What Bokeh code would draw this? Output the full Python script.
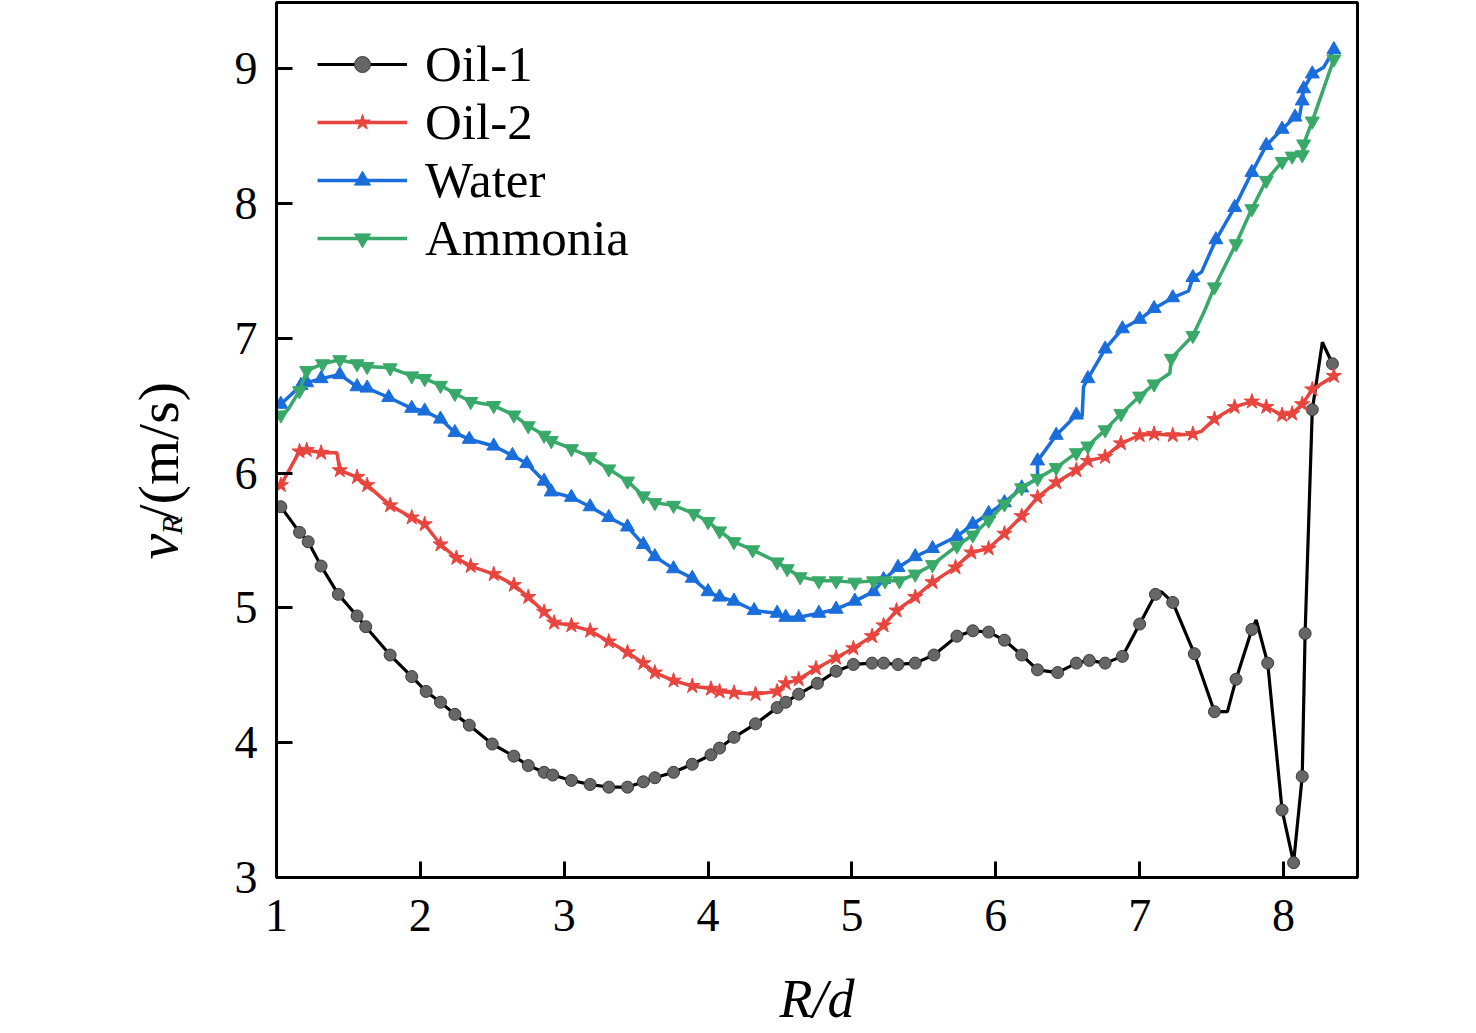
import math
from bokeh.plotting import figure
from bokeh.models import Range1d, FixedTicker, Legend, LegendItem, Title
from bokeh.embed import file_html
from bokeh.resources import INLINE

# ---------------- data ----------------
x_ticks = [1, 2, 3, 4, 5, 6, 7, 8]
y_ticks = [3, 4, 5, 6, 7, 8, 9]

oil1_x = [1.03, 1.16, 1.22, 1.31, 1.43, 1.56, 1.62, 1.79, 1.94, 2.04, 2.14, 2.24, 2.34, 2.50,
          2.65, 2.75, 2.86, 2.92, 3.05, 3.18, 3.31, 3.44, 3.55, 3.63, 3.76, 3.89, 4.02, 4.08,
          4.18, 4.33, 4.48, 4.54, 4.63, 4.76, 4.89, 5.01, 5.14, 5.22, 5.32, 5.44, 5.57, 5.73,
          5.84, 5.95, 6.06, 6.18, 6.29, 6.43, 6.56, 6.65, 6.76, 6.88, 7.00, 7.11, 7.15, 7.23,
          7.38, 7.52, 7.61, 7.67, 7.78, 7.81, 7.89, 7.99, 8.07, 8.13, 8.15, 8.20, 8.27, 8.34]
oil1_y = [5.75, 5.56, 5.49, 5.31, 5.10, 4.94, 4.86, 4.65, 4.49, 4.38, 4.30, 4.21, 4.13, 3.99,
          3.90, 3.83, 3.78, 3.76, 3.72, 3.69, 3.67, 3.67, 3.71, 3.74, 3.78, 3.84, 3.91, 3.96,
          4.04, 4.14, 4.26, 4.30, 4.36, 4.44, 4.53, 4.58, 4.59, 4.59, 4.58, 4.59, 4.65, 4.79,
          4.83, 4.82, 4.76, 4.65, 4.54, 4.52, 4.59, 4.61, 4.59, 4.64, 4.88, 5.10, 5.12, 5.04,
          4.66, 4.23, 4.23, 4.47, 4.84, 4.91, 4.59, 3.50, 3.11, 3.75, 4.81, 6.47, 6.97, 6.81]
oil1_mark = [1] * 54 + [0] + [1] * 3 + [0] + [1] * 2 + [0] + [1] * 6 + [0, 1]

oil2_x = [1.03, 1.16, 1.21, 1.31, 1.42, 1.44, 1.56, 1.63, 1.79, 1.94, 2.03, 2.14, 2.25, 2.35,
          2.51, 2.65, 2.75, 2.86, 2.93, 3.05, 3.18, 3.31, 3.44, 3.55, 3.63, 3.76, 3.89, 4.02,
          4.08, 4.18, 4.33, 4.48, 4.54, 4.63, 4.75, 4.89, 5.01, 5.14, 5.22, 5.31, 5.44, 5.56,
          5.72, 5.83, 5.95, 6.06, 6.18, 6.29, 6.42, 6.56, 6.64, 6.76, 6.87, 7.00, 7.10, 7.23,
          7.37, 7.43, 7.52, 7.66, 7.78, 7.88, 7.99, 8.06, 8.13, 8.20, 8.35]
oil2_y = [5.91, 6.16, 6.17, 6.15, 6.15, 6.02, 5.97, 5.91, 5.76, 5.67, 5.62, 5.47, 5.37, 5.31,
          5.25, 5.17, 5.08, 4.97, 4.89, 4.87, 4.83, 4.75, 4.67, 4.59, 4.52, 4.46, 4.42, 4.40,
          4.38, 4.37, 4.36, 4.38, 4.44, 4.47, 4.55, 4.63, 4.70, 4.79, 4.87, 4.98, 5.08, 5.19,
          5.30, 5.41, 5.44, 5.55, 5.68, 5.82, 5.93, 6.02, 6.09, 6.12, 6.22, 6.28, 6.29, 6.28,
          6.29, 6.31, 6.40, 6.49, 6.53, 6.49, 6.43, 6.44, 6.51, 6.62, 6.72]
oil2_mark = [1] * 4 + [0] + [1] * 52 + [0] + [1] * 9

water_x = [1.03, 1.17, 1.21, 1.31, 1.44, 1.56, 1.63, 1.78, 1.94, 2.03, 2.14, 2.24, 2.34, 2.51,
           2.64, 2.74, 2.86, 2.91, 3.05, 3.18, 3.31, 3.44, 3.55, 3.63, 3.76, 3.89, 4.00, 4.08,
           4.18, 4.32, 4.48, 4.54, 4.63, 4.77, 4.89, 5.02, 5.15, 5.22, 5.32, 5.44, 5.56, 5.73,
           5.84, 5.95, 6.06, 6.18, 6.29, 6.29, 6.42, 6.56, 6.60, 6.61, 6.64, 6.76, 6.88, 7.00,
           7.10, 7.23, 7.34, 7.37, 7.43, 7.53, 7.66, 7.78, 7.88, 7.99, 8.08, 8.11, 8.13, 8.14,
           8.20, 8.28, 8.35]
water_y = [6.51, 6.65, 6.67, 6.70, 6.73, 6.64, 6.63, 6.56, 6.48, 6.46, 6.40, 6.30, 6.25, 6.20,
           6.13, 6.07, 5.94, 5.86, 5.82, 5.75, 5.67, 5.60, 5.47, 5.38, 5.29, 5.22, 5.12, 5.08,
           5.05, 4.98, 4.96, 4.93, 4.93, 4.96, 4.99, 5.05, 5.12, 5.21, 5.30, 5.38, 5.44, 5.53,
           5.62, 5.70, 5.78, 5.89, 5.96, 6.09, 6.28, 6.43, 6.42, 6.64, 6.70, 6.92, 7.07, 7.14,
           7.22, 7.30, 7.35, 7.45, 7.49, 7.73, 7.97, 8.23, 8.43, 8.55, 8.64, 8.64, 8.76, 8.85,
           8.96, 9.01, 9.14]
water_mark = ([1] * 46 + [0] + [1] * 3 + [0, 0] + [1] * 6 + [0, 1, 0] + [1] * 6 + [0]
              + [1] * 3 + [0, 1])

amm_x = [1.03, 1.08, 1.16, 1.21, 1.32, 1.44, 1.56, 1.63, 1.79, 1.94, 2.03, 2.14, 2.24, 2.35,
         2.51, 2.65, 2.75, 2.86, 2.91, 3.05, 3.18, 3.31, 3.44, 3.55, 3.63, 3.76, 3.90, 4.00,
         4.08, 4.18, 4.31, 4.48, 4.55, 4.64, 4.77, 4.89, 5.02, 5.15, 5.23, 5.33, 5.44, 5.56,
         5.73, 5.84, 5.95, 6.06, 6.18, 6.29, 6.42, 6.56, 6.64, 6.76, 6.87, 7.00, 7.10, 7.21,
         7.22, 7.37, 7.45, 7.52, 7.67, 7.78, 7.88, 7.99, 8.06, 8.13, 8.14, 8.20, 8.35]
amm_y = [6.43, 6.47, 6.61, 6.76, 6.81, 6.84, 6.81, 6.79, 6.78, 6.72, 6.70, 6.65, 6.59, 6.53,
         6.50, 6.43, 6.35, 6.28, 6.24, 6.18, 6.12, 6.03, 5.94, 5.83, 5.78, 5.76, 5.70, 5.64,
         5.57, 5.49, 5.43, 5.34, 5.29, 5.23, 5.20, 5.20, 5.19, 5.20, 5.20, 5.20, 5.25, 5.32,
         5.46, 5.54, 5.65, 5.77, 5.89, 5.96, 6.04, 6.15, 6.20, 6.32, 6.44, 6.57, 6.66, 6.74,
         6.85, 7.02, 7.20, 7.38, 7.70, 7.96, 8.17, 8.31, 8.35, 8.36, 8.44, 8.61, 9.07]
amm_mark = [1, 0] + [1] * 53 + [0, 1, 1, 0] + [1] * 10

series_names = ["Oil-1", "Oil-2", "Water", "Ammonia"]

# ---------------- styling ----------------
FONT = "Liberation Serif"
C_BLACK = "#000000"
C_RED = "#E8453F"
C_BLUE = "#1A6EDC"
C_GREEN = "#38A968"

BL, BT, BB, BR = 276, 2, 148, 103
FW, FH = 1081, 875
p = figure(frame_width=FW, frame_height=FH,
           x_range=Range1d(1, 1 + FW / 143.86), y_range=Range1d(3, 3 + FH / 134.83),
           output_backend="svg", toolbar_location=None,
           min_border_left=BL, min_border_right=BR, min_border_top=BT, min_border_bottom=BB,
           background_fill_color="white", border_fill_color="white")

p.xgrid.visible = False
p.ygrid.visible = False
p.outline_line_color = "black"
p.outline_line_width = 3
p.outline_line_alpha = 1.0

for ax in (p.xaxis[0], p.yaxis[0]):
    ax.axis_line_width = 3
    ax.major_tick_line_width = 3
    ax.major_tick_in = 16
    ax.major_tick_out = 0
    ax.minor_tick_line_color = None
    ax.major_label_text_font = FONT
    ax.major_label_text_font_size = "46px"
    ax.major_label_text_color = "black"

p.xaxis.ticker = FixedTicker(ticks=x_ticks)
p.yaxis.ticker = FixedTicker(ticks=y_ticks)
p.xaxis.major_label_standoff = 22
p.yaxis.major_label_standoff = 19

p.xaxis.axis_label = "R/d"
p.xaxis.axis_label_text_font = FONT
p.xaxis.axis_label_text_font_style = "italic"
p.xaxis.axis_label_text_font_size = "54px"
p.xaxis.axis_label_standoff = 35
p.xaxis.axis_label_text_color = "black"


def draw(xs, ys, marks, color, lw, marker, size, fill, line_c):
    lr = p.line(xs, ys, line_color=color, line_width=lw)
    mx = [x for x, m in zip(xs, marks) if m]
    my = [y for y, m in zip(ys, marks) if m]
    sr = p.scatter(mx, my, marker=marker, size=size, fill_color=fill, line_color=line_c,
                   line_width=1)
    return [lr, sr]


r1 = draw(oil1_x, oil1_y, oil1_mark, C_BLACK, 3.2, "circle", 12, "#666666", "#3a3a3a")
r2 = draw(oil2_x, oil2_y, oil2_mark, C_RED, 3.5, "star", 16, C_RED, C_RED)
r3 = draw(water_x, water_y, water_mark, C_BLUE, 3.5, "triangle", 14, C_BLUE, C_BLUE)
r4 = draw(amm_x, amm_y, amm_mark, C_GREEN, 3.5, "inverted_triangle", 14, C_GREEN, C_GREEN)

legend = Legend(items=[LegendItem(label=n, renderers=r) for n, r in
                       zip(series_names, [r1, r2, r3, r4])],
                location=(41, FH - 33 - 232), glyph_width=90, glyph_height=40,
                label_height=58, spacing=0, padding=0, margin=0, label_standoff=18,
                label_text_font=FONT, label_text_font_size="51px",
                label_text_color="black", border_line_color=None,
                background_fill_alpha=0.0)
p.add_layout(legend, "center")

# y axis label v_R/(m/s): pieces as titles in the left side panel
spacer = Title(text=" ", text_font=FONT, text_font_size="1px", standoff=70)
p.add_layout(spacer, "left")
ylab_parts = [("/(m/s)", "normal", "58px", "middle", 357, -66),
              ("v", "italic", "58px", "middle", 318, -66),
              ("R", "italic", "30px", "bottom", 343, -63)]
for txt, style, fs, va, off, so in ylab_parts:
    p.add_layout(Title(text=txt, text_font=FONT, text_font_style=style, text_font_size=fs,
                       text_color="black", align="left", vertical_align=va,
                       offset=off, standoff=so), "left")

open("out.html", "w").write(file_html(p, INLINE))
